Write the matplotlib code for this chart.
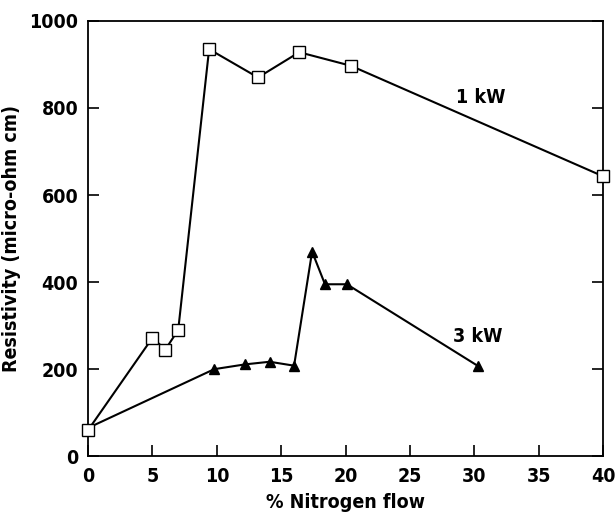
import matplotlib
matplotlib.use('Agg')
import matplotlib.pyplot as plt
from matplotlib import font_manager

# datos
n2_1kw = [0, 5, 6, 7, 9.4, 13.2, 16.4, 20.4, 40]
res_1kw = [60, 272, 245, 290, 935, 870, 928, 897, 643]

n2_3kw = [0, 9.8, 12.2, 14.1, 16.0, 17.4, 18.4, 20.1, 30.3]
res_3kw = [65, 200, 211, 217, 208, 470, 395, 395, 207]

xticks = [0, 5, 10, 15, 20, 25, 30, 35, 40]
yticks = [0, 200, 400, 600, 800, 1000]

# fonte condensada, se existir
nomes = {f.name for f in font_manager.fontManager.ttflist}
familia = 'Liberation Sans Narrow' if 'Liberation Sans Narrow' in nomes else 'DejaVu Sans'
plt.rcParams['font.family'] = [familia, 'DejaVu Sans']
plt.rcParams['font.stretch'] = 'condensed'

fig = plt.figure(figsize=(6.16, 5.22), dpi=100)
ax = fig.add_axes([0.143, 0.126, 0.836, 0.834])

ax.plot(n2_3kw, res_3kw, color='black', lw=1.5, marker='^', ms=7,
        mfc='black', mec='black', markevery=list(range(1, len(n2_3kw))), zorder=2)
ax.plot(n2_1kw, res_1kw, color='black', lw=1.5, marker='s', ms=8,
        mfc='white', mec='black', mew=1.0, zorder=3, clip_on=False)

ax.text(30.5, 825, '1 kW', fontsize=14, fontweight='bold', ha='center', va='center')
ax.text(30.3, 276, '3 kW', fontsize=14, fontweight='bold', ha='center', va='center')

ax.set_xlim(0, 40)
ax.set_ylim(0, 1000)
ax.set_xticks(xticks)
ax.set_yticks(yticks)
ax.tick_params(direction='in', length=8, width=1.2, labelsize=14, right=True, top=False)
ax.tick_params(axis='x', pad=8)
ax.tick_params(axis='y', pad=7)
for lab in ax.get_xticklabels() + ax.get_yticklabels():
    lab.set_fontweight('bold')
for s in ax.spines.values():
    s.set_linewidth(1.3)

ax.set_xlabel('% Nitrogen flow', fontsize=14, fontweight='bold', labelpad=5)
ax.set_ylabel('Resistivity (micro-ohm cm)', fontsize=14, fontweight='bold', labelpad=6)

fig.savefig('out.png', dpi=100)
